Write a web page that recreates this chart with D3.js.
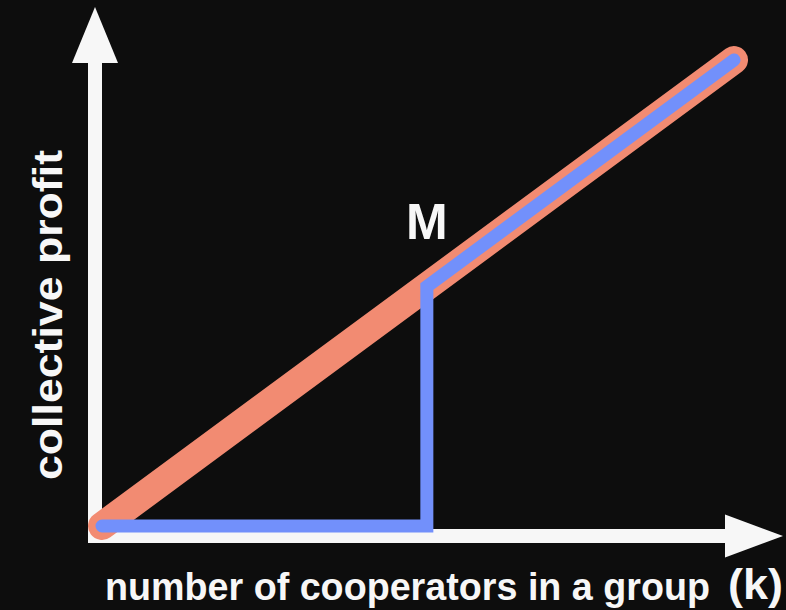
<!DOCTYPE html>
<html>
<head>
<meta charset="utf-8">
<script src="https://cdn.jsdelivr.net/npm/d3@7"></script>
<style>
  html, body { margin: 0; padding: 0; background: #0d0d0d; }
  svg { display: block; }
</style>
</head>
<body>
<div id="chart"></div>
<script>
// ---- data ----
const kMax = 20;
const thresholdM = 10.28;
const cooperationK = [0, kMax];
const cooperationProfit = [0, kMax];
const thresholdK = [0, thresholdM, thresholdM, kMax];
const thresholdProfit = [0, 0, thresholdM, kMax];
const xLabel = "number of cooperators in a group";
const xUnit = "(k)";
const yLabel = "collective profit";
const markLabel = "M";

// ---- layout ----
const W = 786, H = 610;
const svg = d3.select("#chart").append("svg").attr("width", W).attr("height", H);
svg.append("rect").attr("width", W).attr("height", H).attr("fill", "#0d0d0d");

const x = d3.scaleLinear().domain([0, kMax]).range([102, 734]);
const y = d3.scaleLinear().domain([0, kMax]).range([526, 60]);

const white = "#f7f7f7";
const salmon = "#f28b72";
const blue = "#7290fb";

// axes (arrows)
const axX0 = x(0) - 7;   // vertical axis centre
const axY0 = y(0) + 10;  // horizontal axis centre
const g = svg.append("g");
g.append("line").attr("x1", axX0).attr("x2", axX0).attr("y1", axY0 + 7).attr("y2", 60)
  .attr("stroke", white).attr("stroke-width", 14);
g.append("path").attr("d", d3.line()([[axX0, 7], [axX0 - 23, 63], [axX0 + 23, 63]]) + "Z")
  .attr("fill", white);
g.append("line").attr("x1", axX0 - 7).attr("x2", 728).attr("y1", axY0).attr("y2", axY0)
  .attr("stroke", white).attr("stroke-width", 14);
g.append("path").attr("d", d3.line()([[783, axY0], [725, axY0 - 21.5], [725, axY0 + 21.5]]) + "Z")
  .attr("fill", white);

// series
const line = d3.line().x(d => x(d[0])).y(d => y(d[1]));
svg.append("path")
  .attr("d", line(cooperationK.map((k, i) => [k, cooperationProfit[i]])))
  .attr("fill", "none").attr("stroke", salmon).attr("stroke-width", 28)
  .attr("stroke-linecap", "round");
svg.append("path")
  .attr("d", line(thresholdK.map((k, i) => [k, thresholdProfit[i]])))
  .attr("fill", "none").attr("stroke", blue).attr("stroke-width", 13)
  .attr("stroke-linecap", "round").attr("stroke-linejoin", "miter");

// labels
const font = "'Liberation Sans', Arial, Helvetica, sans-serif";
svg.append("text").text(markLabel)
  .attr("x", x(thresholdM)).attr("y", 239).attr("text-anchor", "middle")
  .attr("font-family", font).attr("font-weight", "bold").attr("font-size", 50)
  .attr("fill", white);

svg.append("text").text(xLabel)
  .attr("x", 105).attr("y", 600)
  .attr("textLength", 605).attr("lengthAdjust", "spacingAndGlyphs")
  .attr("font-family", font).attr("font-weight", "bold").attr("font-size", 39)
  .attr("fill", white);
svg.append("text").text(xUnit)
  .attr("x", 728).attr("y", 599)
  .attr("textLength", 55).attr("lengthAdjust", "spacingAndGlyphs")
  .attr("font-family", font).attr("font-weight", "bold").attr("font-size", 42)
  .attr("fill", white);

svg.append("text").text(yLabel)
  .attr("transform", "translate(62,315) rotate(-90)")
  .attr("text-anchor", "middle")
  .attr("textLength", 330).attr("lengthAdjust", "spacingAndGlyphs")
  .attr("font-family", font).attr("font-weight", "bold").attr("font-size", 41)
  .attr("fill", white);
</script>
</body>
</html>
